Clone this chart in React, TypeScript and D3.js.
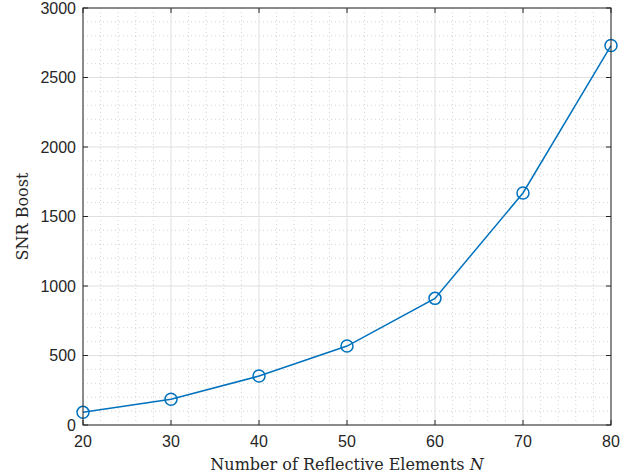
import { useEffect, useRef } from "react";
import * as d3 from "d3";

const elementsN = [20, 30, 40, 50, 60, 70, 80];
const snrBoost = [91, 185, 352, 568, 911, 1669, 2730];
const xTicks = [20, 30, 40, 50, 60, 70, 80];
const yTicks = [0, 500, 1000, 1500, 2000, 2500, 3000];

export default function App() {
  const svgElem = useRef<SVGSVGElement>(null);

  useEffect(() => {
    const width = 625;
    const height = 476;
    const m = { left: 83, right: 14, top: 8, bottom: 51 };
    const w = width - m.left - m.right;
    const h = height - m.top - m.bottom;

    const root = d3.select(svgElem.current);
    root.selectAll("*").remove();
    root.attr("width", width).attr("height", height);
    root.append("rect").attr("width", width).attr("height", height).attr("fill", "#fff");

    const svg = root.append("g").attr("transform", `translate(${m.left},${m.top})`);

    const x = d3.scaleLinear().domain([20, 80]).range([0, w]);
    const y = d3.scaleLinear().domain([0, 3000]).range([h, 0]);

    // minor grid
    const xMinor = d3.range(20, 80.01, 2).filter((v) => v % 10 !== 0);
    const yMinor = d3.range(0, 3000.1, 100).filter((v) => v % 500 !== 0);
    const grid = svg.append("g");
    grid
      .selectAll(".xm")
      .data(xMinor)
      .join("line")
      .attr("x1", (d) => x(d))
      .attr("x2", (d) => x(d))
      .attr("y1", 0)
      .attr("y2", h)
      .attr("stroke", "#c8c8c8")
      .attr("stroke-width", 0.8)
      .attr("stroke-dasharray", "1,3");
    grid
      .selectAll(".ym")
      .data(yMinor)
      .join("line")
      .attr("x1", 0)
      .attr("x2", w)
      .attr("y1", (d) => y(d))
      .attr("y2", (d) => y(d))
      .attr("stroke", "#c8c8c8")
      .attr("stroke-width", 0.8)
      .attr("stroke-dasharray", "1,3");
    // major grid
    grid
      .selectAll(".xM")
      .data(xTicks)
      .join("line")
      .attr("x1", (d) => x(d))
      .attr("x2", (d) => x(d))
      .attr("y1", 0)
      .attr("y2", h)
      .attr("stroke", "#dfdfdf")
      .attr("stroke-width", 1);
    grid
      .selectAll(".yM")
      .data(yTicks)
      .join("line")
      .attr("x1", 0)
      .attr("x2", w)
      .attr("y1", (d) => y(d))
      .attr("y2", (d) => y(d))
      .attr("stroke", "#dfdfdf")
      .attr("stroke-width", 1);

    // data line
    const line = d3
      .line<number>()
      .x((d, i) => x(elementsN[i]))
      .y((d) => y(d));
    svg
      .append("path")
      .datum(snrBoost)
      .attr("fill", "none")
      .attr("stroke", "#0072BD")
      .attr("stroke-width", 1.5)
      .attr("d", line);
    svg
      .selectAll(".pt")
      .data(snrBoost)
      .join("circle")
      .attr("cx", (d, i) => x(elementsN[i]))
      .attr("cy", (d) => y(d))
      .attr("r", 6)
      .attr("fill", "none")
      .attr("stroke", "#0072BD")
      .attr("stroke-width", 1.5);

    // box + inner ticks
    const axCol = "#262626";
    svg
      .append("rect")
      .attr("width", w)
      .attr("height", h)
      .attr("fill", "none")
      .attr("stroke", axCol)
      .attr("stroke-width", 1);
    const tl = 5;
    xTicks.forEach((t) => {
      svg.append("line").attr("x1", x(t)).attr("x2", x(t)).attr("y1", h).attr("y2", h - tl).attr("stroke", axCol);
      svg.append("line").attr("x1", x(t)).attr("x2", x(t)).attr("y1", 0).attr("y2", tl).attr("stroke", axCol);
      svg
        .append("text")
        .attr("x", x(t))
        .attr("y", h + 22)
        .attr("text-anchor", "middle")
        .attr("font-family", "Liberation Sans, Arial, sans-serif")
        .attr("font-size", 16)
        .attr("fill", axCol)
        .text(t);
    });
    yTicks.forEach((t) => {
      svg.append("line").attr("x1", 0).attr("x2", tl).attr("y1", y(t)).attr("y2", y(t)).attr("stroke", axCol);
      svg.append("line").attr("x1", w).attr("x2", w - tl).attr("y1", y(t)).attr("y2", y(t)).attr("stroke", axCol);
      svg
        .append("text")
        .attr("x", -7)
        .attr("y", y(t))
        .attr("dy", "0.35em")
        .attr("text-anchor", "end")
        .attr("font-family", "Liberation Sans, Arial, sans-serif")
        .attr("font-size", 16)
        .attr("fill", axCol)
        .text(t);
    });

    // axis labels
    const xl = svg
      .append("text")
      .attr("x", w / 2)
      .attr("y", h + 45)
      .attr("text-anchor", "middle")
      .attr("font-family", "DejaVu Serif, serif")
      .attr("font-size", 16)
      .attr("fill", axCol);
    xl.append("tspan").text("Number of Reflective Elements ");
    xl.append("tspan").attr("font-style", "italic").text("N");

    svg
      .append("text")
      .attr("transform", `translate(${-55},${h / 2}) rotate(-90)`)
      .attr("text-anchor", "middle")
      .attr("font-family", "DejaVu Serif, serif")
      .attr("font-size", 16)
      .attr("fill", axCol)
      .text("SNR Boost");
  }, []);

  return (
    <div style={{ position: "absolute", left: 0, top: 0 }}>
      <svg ref={svgElem} style={{ display: "block" }}></svg>
    </div>
  );
}
